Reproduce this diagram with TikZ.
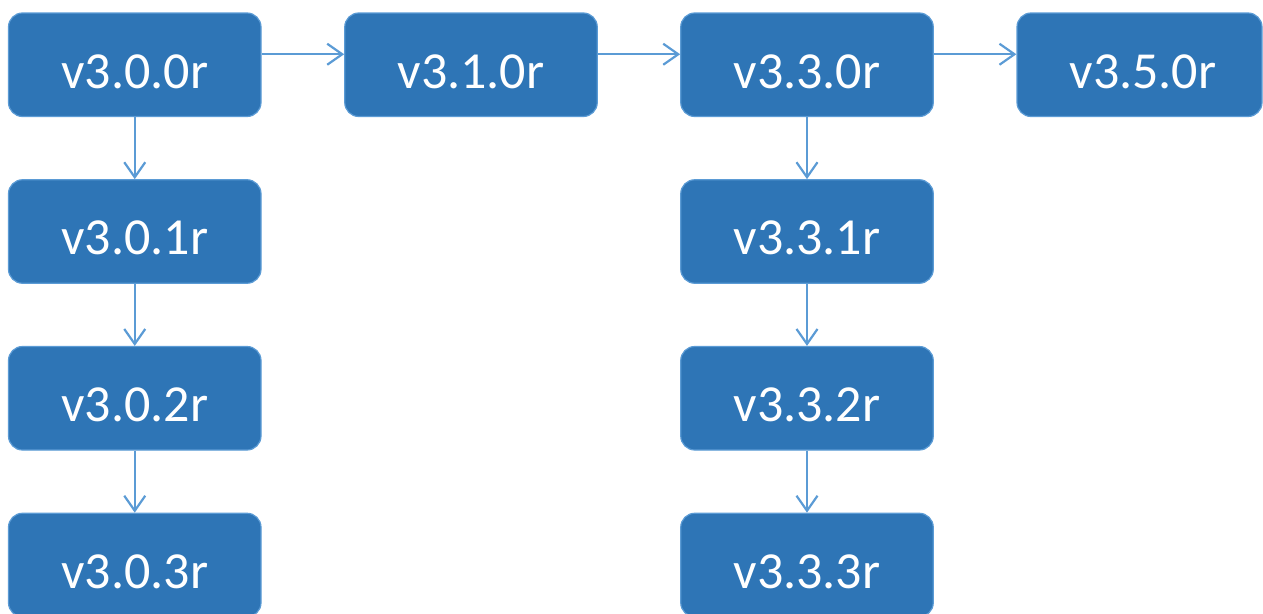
\documentclass[tikz,border=0pt]{standalone}
\usepackage{fontspec}
\setmainfont{Carlito}
\usetikzlibrary{arrows.meta}
\definecolor{boxfill}{RGB}{46,117,182}
\definecolor{boxedge}{RGB}{91,155,213}
\definecolor{linkcol}{RGB}{91,155,213}
\tikzset{
  relbox/.style={draw=boxedge, line width=1.2pt, fill=boxfill, rounded corners=14pt,
    minimum width=252.5pt, minimum height=103.5pt, inner sep=0pt,
    text=white, font=\fontsize{52}{52}\selectfont, text height=46.5pt, text depth=0pt},
  link/.style={draw=linkcol, line width=2.2pt,
    -{Straight Barb[length=15pt,width=21pt,line width=2.2pt]}}
}
\begin{document}
\begin{tikzpicture}[x=1pt,y=-1pt]
\useasboundingbox (0,0) rectangle (1263,613);
\clip (0,0) rectangle (1263,613);
% top row: main releases
\node[relbox] (r300) at (134.75,64.75) {v3.0.0r};
\node[relbox] (r310) at (471,64.75) {v3.1.0r};
\node[relbox] (r330) at (807,64.75) {v3.3.0r};
\node[relbox, minimum width=245pt] (r350) at (1139.5,64.75) {\hspace*{7pt}v3.5.0r};
% patch releases of v3.0
\node[relbox] (r301) at (134.75,231.5) {v3.0.1r};
\node[relbox] (r302) at (134.75,398.25) {v3.0.2r};
\node[relbox] (r303) at (134.75,565) {v3.0.3r};
% patch releases of v3.3
\node[relbox] (r331) at (807,231.5) {v3.3.1r};
\node[relbox] (r332) at (807,398.25) {v3.3.2r};
\node[relbox] (r333) at (807,565) {v3.3.3r};
% connectors
\draw[link] ([yshift=10.5pt]r300.east) -- ([yshift=10.5pt]r310.west);
\draw[link] ([yshift=10.5pt]r310.east) -- ([yshift=10.5pt]r330.west);
\draw[link] ([yshift=10.5pt]r330.east) -- ([yshift=10.5pt]r350.west);
\draw[link] (r300) -- (r301);
\draw[link] (r301) -- (r302);
\draw[link] (r302) -- (r303);
\draw[link] (r330) -- (r331);
\draw[link] (r331) -- (r332);
\draw[link] (r332) -- (r333);
\end{tikzpicture}
\end{document}
